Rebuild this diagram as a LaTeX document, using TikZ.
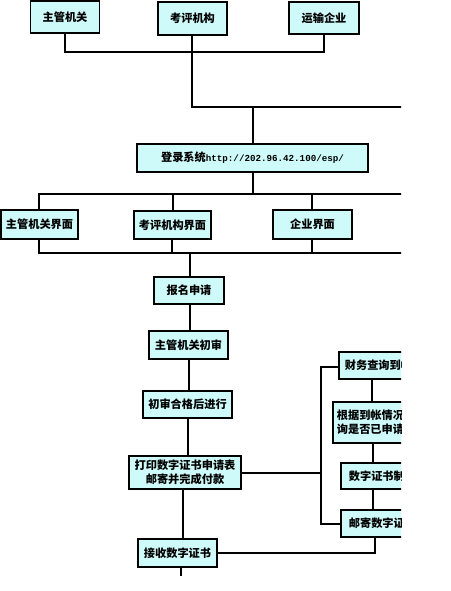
\documentclass[tikz,border=0pt]{standalone}
\usepackage{fontspec}
\setmainfont{Noto Sans CJK SC}
\newfontfamily\urlfont{Liberation Mono}
\definecolor{boxfill}{RGB}{206,250,250}
\tikzset{
  box/.style={draw=black, line width=1.7pt, fill=boxfill, inner sep=0pt, align=center,
    font=\fontsize{11.2}{14}\selectfont\bfseries},
  rbox/.style={box, align=left, inner ysep=0pt},
  conn/.style={line width=1.4pt, line cap=rect}
}
\begin{document}
\begin{tikzpicture}[x=1pt,y=-1pt]
\useasboundingbox (0,0) rectangle (450,591);
\begin{scope}
\clip (0,0) rectangle (401,591);
% top row
\node[box, minimum width=69pt, minimum height=32pt] (zg) at (65,17) {主管机关};
\node[box, minimum width=69pt, minimum height=33pt] (kp) at (192.5,18.5) {考评机构};
\node[box, minimum width=70pt, minimum height=32pt] (ys) at (324,18) {运输企业};
% login
\node[box, minimum width=231pt, minimum height=28pt] (login) at (252.5,158)
  {登录系统{\urlfont\fontsize{9.2}{12}\selectfont http://202.96.42.100/esp/}};
% interfaces
\node[box, minimum width=77pt, minimum height=29pt] (zgjm) at (39.5,224.5) {主管机关界面};
\node[box, minimum width=77pt, minimum height=28pt] (kpjm) at (172.5,225) {考评机构界面};
\node[box, minimum width=79pt, minimum height=29pt] (qyjm) at (312.5,224.5) {企业界面};
% main flow
\node[box, minimum width=70pt, minimum height=27pt] (bm) at (189,290.5) {报名申请};
\node[box, minimum width=79pt, minimum height=28pt] (cs) at (188.5,345) {主管机关初审};
\node[box, minimum width=89pt, minimum height=27pt] (hg) at (187.5,404.5) {初审合格后进行};
\node[box, minimum width=112pt, minimum height=33pt] (dy) at (185,472.5) {打印数字证书申请表\\邮寄并完成付款};
\node[box, minimum width=79pt, minimum height=28pt] (js) at (177.5,553) {接收数字证书};
% right column (cut off at the edge)
\node[rbox, anchor=west, inner xsep=6pt, text width=70pt, minimum height=27pt] (cw) at (338,365.5) {财务查询到帐};
\node[rbox, anchor=west, inner xsep=4pt, text width=80pt, minimum height=41pt] (gj) at (332,422.5) {根据到帐情况查\\询是否已申请};
\node[rbox, anchor=west, inner xsep=8pt, text width=70pt, minimum height=26pt] (zz) at (340,476) {数字证书制作};
\node[rbox, anchor=west, inner xsep=8pt, text width=70pt, minimum height=27pt] (yj) at (340,523.5) {邮寄数字证书};
% coordinates
\coordinate (t1) at (65,52);
\coordinate (t2) at (324,52);
\coordinate (h1) at (192,107);
\coordinate (h1e) at (401,107);
\coordinate (h1m) at (253,107);
\coordinate (b1) at (39,194);
\coordinate (b1e) at (401,194);
\coordinate (c1) at (39,253);
\coordinate (c1e) at (401,253);
\coordinate (c1m) at (190,253);
\coordinate (v1) at (321,367);
\coordinate (v2) at (321,473);
\coordinate (v3) at (321,524);
\coordinate (e1) at (375,553);
\coordinate (endp) at (181,575);
% connectors top
\draw[conn] (zg.south -| t1) -- (t1) -- (t2) -- (ys.south -| t2);
\draw[conn] (kp.south -| h1) -- (h1) -- (h1e);
\draw[conn] (h1m) -- (login.north -| h1m);
\draw[conn] (login.south -| h1m) -- (h1m |- b1);
\draw[conn] (b1) -- (b1e);
\draw[conn] (b1) -- (zgjm.north -| b1);
\draw[conn] (173,194) -- (kpjm.north -| 173,0);
\draw[conn] (312,194) -- (qyjm.north -| 312,0);
\draw[conn] (zgjm.south -| c1) -- (c1) -- (c1e);
\draw[conn] (kpjm.south -| 172,0) -- (172,253);
\draw[conn] (qyjm.south -| 312,0) -- (312,253);
% main flow
\draw[conn] (c1m) -- (bm.north -| c1m);
\draw[conn] (bm.south -| 190,0) -- (cs.north -| 190,0);
\draw[conn] (cs.south -| 189,0) -- (hg.north -| 189,0);
\draw[conn] (hg.south -| 188,0) -- (dy.north -| 188,0);
\draw[conn] (dy.south -| 183,0) -- (js.north -| 183,0);
\draw[conn] (js.south -| endp) -- (endp);
% right side
\draw[conn] (dy.east |- v2) -- (v2);
\draw[conn] (cw.west |- v1) -- (v1) -- (v3) -- (yj.west |- v3);
\draw[conn] (cw.south -| 372,0) -- (gj.north -| 372,0);
\draw[conn] (gj.south -| 373,0) -- (zz.north -| 373,0);
\draw[conn] (zz.south -| 373,0) -- (yj.north -| 373,0);
\draw[conn] (yj.south -| e1) -- (e1) -- (js.east |- e1);
\end{scope}
\end{tikzpicture}
\end{document}
